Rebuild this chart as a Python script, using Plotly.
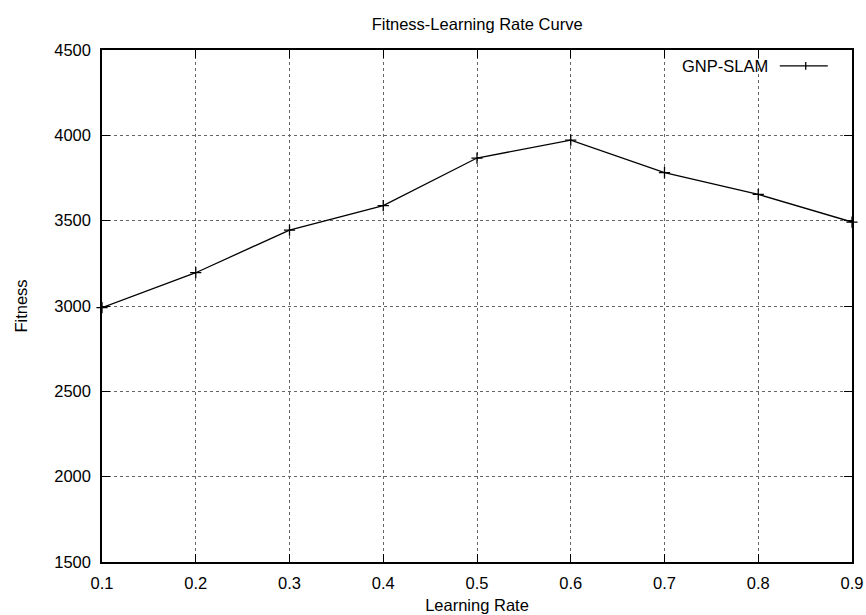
import plotly.graph_objects as go

# Learning-rate sweep results
learning_rate = [0.1, 0.2, 0.3, 0.4, 0.5, 0.6, 0.7, 0.8, 0.9]
fitness = [2990, 3195, 3445, 3588, 3867, 3972, 3781, 3654, 3492]
series_name = "GNP-SLAM"

x_ticks = [0.1, 0.2, 0.3, 0.4, 0.5, 0.6, 0.7, 0.8, 0.9]
y_ticks = [1500, 2000, 2500, 3000, 3500, 4000, 4500]

FONT = "Liberation Sans, Arial, sans-serif"
FS = 16.5

fig = go.Figure()
fig.add_trace(go.Scatter(
    x=learning_rate, y=fitness, mode="lines+markers", name=series_name,
    line=dict(color="black", width=1.3),
    marker=dict(symbol="cross-thin", size=8, line=dict(color="black", width=1.3)),
    showlegend=False, cliponaxis=False,
))

axis_common = dict(
    showline=True, linecolor="black", linewidth=1.5, mirror="ticks",
    ticks="inside", ticklen=8, tickwidth=1.2, tickcolor="black",
    showgrid=True, gridcolor="#666", griddash="dot", gridwidth=1,
    zeroline=False, automargin=False,
    tickfont=dict(family=FONT, size=FS, color="black"),
)

fig.update_xaxes(
    range=[0.1, 0.9], tickvals=x_ticks, ticktext=[f"{v:.1f}" for v in x_ticks],
    title=dict(text="Learning Rate", font=dict(family=FONT, size=FS, color="black"), standoff=9),
    ticklabelstandoff=5, **axis_common,
)
fig.update_yaxes(
    range=[1500, 4500], tickvals=y_ticks, ticktext=[str(v) for v in y_ticks],
    title=dict(text="Fitness", font=dict(family=FONT, size=FS, color="black"), standoff=22),
    ticklabelstandoff=6, **axis_common,
)

# Legend entry drawn gnuplot-style: label on the left, line sample on the right
legend_y = 0.969
fig.add_annotation(
    x=0.8905, y=legend_y, xref="paper", yref="paper", xanchor="right", yanchor="middle",
    text=series_name, showarrow=False, font=dict(family=FONT, size=FS, color="black"),
)
fig.add_shape(type="line", xref="paper", yref="paper",
              x0=0.9037, x1=0.9677, y0=legend_y, y1=legend_y,
              line=dict(color="black", width=1.3))
fig.add_shape(type="line", xref="paper", yref="paper",
              x0=0.9383, x1=0.9383, y0=legend_y - 0.0075, y1=legend_y + 0.0075,
              line=dict(color="black", width=1.3))

fig.update_layout(
    width=866, height=615,
    margin=dict(l=102, r=14, t=50, b=53),
    paper_bgcolor="white", plot_bgcolor="white",
    font=dict(family=FONT, size=FS, color="black"),
    title=dict(text="Fitness-Learning Rate Curve", x=0.551, xanchor="center",
               y=1 - 24 / 615, yanchor="middle", yref="container",
               font=dict(family=FONT, size=FS, color="black")),
)

fig.write_html("out.html")
